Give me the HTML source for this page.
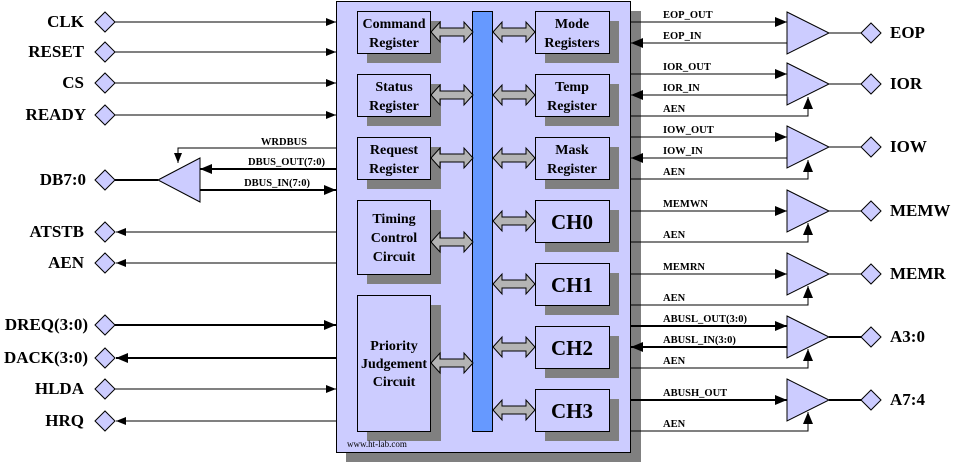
<!DOCTYPE html>
<html><head><style>
html,body{margin:0;padding:0;background:#fff;}
svg{display:block;}
text{font-family:"Liberation Serif",serif;font-weight:bold;fill:#000;}
.pin{font-size:17px;}
.sig{font-size:10.5px;}
.bx{font-size:14px;}
.ch{font-size:21px;}
</style></head><body>
<svg width="956" height="466" viewBox="0 0 956 466" xmlns="http://www.w3.org/2000/svg">
<defs>
<marker id="ar" markerWidth="10" markerHeight="8" refX="10" refY="4" orient="auto" markerUnits="userSpaceOnUse"><path d="M0,0 L10,4 L0,8 Z" fill="#000"/></marker>
<marker id="arb" markerWidth="12" markerHeight="10" refX="12" refY="5" orient="auto" markerUnits="userSpaceOnUse"><path d="M0,0 L12,5 L0,10 Z" fill="#000"/></marker>
<g id="dbl"><path d="M0,10 L9,0 L9,6 L33,6 L33,0 L42,10 L33,20 L33,14 L9,14 L9,20 Z" fill="#b4b4b4" stroke="#000" stroke-width="1"/></g>
<g id="dia"><path d="M0,0 L10,-10 L20,0 L10,10 Z" fill="#ccccff" stroke="#000" stroke-width="1"/></g>
</defs>

<rect x="346" y="11" width="295" height="451" fill="#808080"/>
<rect x="336.5" y="1.5" width="294" height="451" fill="#ccccff" stroke="#000" stroke-width="1"/>

<g fill="#808080">
<rect x="367" y="21" width="74" height="42"/><rect x="367" y="84" width="74" height="42"/><rect x="367" y="147" width="74" height="42"/>
<rect x="367" y="210" width="74" height="74"/><rect x="367" y="305" width="74" height="136"/>
<rect x="545" y="21" width="74" height="42"/><rect x="545" y="84" width="74" height="42"/><rect x="545" y="147" width="74" height="42"/>
<rect x="545" y="210" width="74" height="42"/><rect x="545" y="273" width="74" height="42"/><rect x="545" y="336" width="74" height="42"/><rect x="545" y="399" width="74" height="42"/>
</g>
<g fill="#ccccff" stroke="#000" stroke-width="1">
<rect x="357.5" y="11.5" width="73" height="42"/><rect x="357.5" y="74.5" width="73" height="42"/><rect x="357.5" y="137.5" width="73" height="42"/>
<rect x="357.5" y="200.5" width="73" height="74"/><rect x="357.5" y="295.5" width="73" height="136"/>
<rect x="535.5" y="11.5" width="74" height="42"/><rect x="535.5" y="74.5" width="74" height="42"/><rect x="535.5" y="137.5" width="74" height="42"/>
<rect x="535.5" y="200.5" width="74" height="42"/><rect x="535.5" y="263.5" width="74" height="42"/><rect x="535.5" y="326.5" width="74" height="42"/><rect x="535.5" y="389.5" width="74" height="42"/>
</g>
<rect x="472.5" y="11.5" width="20" height="420" fill="#6699ff" stroke="#000" stroke-width="1"/>

<use href="#dbl" x="431" y="22"/><use href="#dbl" x="431" y="85"/><use href="#dbl" x="431" y="148"/>
<use href="#dbl" x="431" y="232"/><use href="#dbl" x="431" y="353"/>
<use href="#dbl" x="493" y="22"/><use href="#dbl" x="493" y="85"/><use href="#dbl" x="493" y="148"/>
<use href="#dbl" x="493" y="211"/><use href="#dbl" x="493" y="274"/><use href="#dbl" x="493" y="337"/><use href="#dbl" x="493" y="400"/>

<g class="bx" text-anchor="middle">
<text x="394" y="28">Command</text><text x="394" y="47">Register</text>
<text x="394" y="91">Status</text><text x="394" y="110">Register</text>
<text x="394" y="154">Request</text><text x="394" y="173">Register</text>
<text x="394" y="223">Timing</text><text x="394" y="242">Control</text><text x="394" y="261">Circuit</text>
<text x="394" y="350">Priority</text><text x="394" y="368">Judgement</text><text x="394" y="386">Circuit</text>
<text x="572" y="28">Mode</text><text x="572" y="47">Registers</text>
<text x="572" y="91">Temp</text><text x="572" y="110">Register</text>
<text x="572" y="154">Mask</text><text x="572" y="173">Register</text>
</g>
<g class="ch" text-anchor="middle">
<text x="572" y="229">CH0</text><text x="572" y="292">CH1</text><text x="572" y="355">CH2</text><text x="572" y="418">CH3</text>
</g>
<text x="347" y="447" style="font-size:9px;font-weight:normal">www.ht-lab.com</text>

<g class="pin" text-anchor="end">
<text x="84" y="27">CLK</text><text x="84" y="57">RESET</text><text x="84" y="88">CS</text><text x="86" y="120">READY</text>
<text x="86" y="185">DB7:0</text><text x="84" y="237">ATSTB</text><text x="84" y="268">AEN</text>
<text x="88" y="330">DREQ(3:0)</text><text x="88" y="363">DACK(3:0)</text><text x="84" y="394">HLDA</text><text x="84" y="426">HRQ</text>
</g>
<g>
<use href="#dia" x="95" y="22"/><use href="#dia" x="95" y="52"/><use href="#dia" x="95" y="83"/><use href="#dia" x="95" y="115"/>
<use href="#dia" x="95" y="180"/><use href="#dia" x="95" y="232"/><use href="#dia" x="95" y="263"/>
<use href="#dia" x="95" y="325"/><use href="#dia" x="95" y="358"/><use href="#dia" x="95" y="389"/><use href="#dia" x="95" y="421"/>
</g>
<g stroke="#000" stroke-width="1" fill="none">
<line x1="115" y1="22" x2="336" y2="22" marker-end="url(#ar)"/>
<line x1="115" y1="52" x2="336" y2="52" marker-end="url(#ar)"/>
<line x1="115" y1="83" x2="336" y2="83" marker-end="url(#ar)"/>
<line x1="115" y1="115" x2="336" y2="115" marker-end="url(#ar)"/>
<line x1="336" y1="232" x2="116" y2="232" marker-end="url(#ar)"/>
<line x1="336" y1="263" x2="116" y2="263" marker-end="url(#ar)"/>
<line x1="115" y1="389" x2="336" y2="389" marker-end="url(#ar)"/>
<line x1="336" y1="421" x2="116" y2="421" marker-end="url(#ar)"/>
<path d="M336,148 H178 V163" marker-end="url(#ar)"/>
</g>
<g stroke="#000" stroke-width="2" fill="none">
<line x1="115" y1="325" x2="336" y2="325" marker-end="url(#arb)"/>
<line x1="336" y1="358" x2="116" y2="358" marker-end="url(#arb)"/>
<line x1="115" y1="180" x2="158" y2="180"/>
<line x1="336" y1="169" x2="200" y2="169" marker-end="url(#arb)"/>
<line x1="200" y1="190" x2="336" y2="190" marker-end="url(#arb)"/>
</g>
<path d="M158,180 L200,158 L200,202 Z" fill="#ccccff" stroke="#000" stroke-width="1"/>
<g class="sig" text-anchor="end">
<text x="307" y="145">WRDBUS</text><text x="325" y="165">DBUS_OUT(7:0)</text><text x="310" y="186">DBUS_IN(7:0)</text>
</g>

<g fill="#ccccff" stroke="#000" stroke-width="1">
<path d="M787,12 L829,33 L787,54 Z"/><path d="M787,63 L829,84 L787,105 Z"/><path d="M787,126 L829,147 L787,168 Z"/>
<path d="M787,190 L829,211 L787,232 Z"/><path d="M787,253 L829,274 L787,295 Z"/><path d="M787,316 L829,337 L787,358 Z"/><path d="M787,379 L829,400 L787,421 Z"/>
</g>
<g stroke="#000" stroke-width="1">
<line x1="829" y1="33" x2="862" y2="33"/><line x1="829" y1="84" x2="862" y2="84"/><line x1="829" y1="147" x2="862" y2="147"/>
<line x1="829" y1="211" x2="862" y2="211"/><line x1="829" y1="274" x2="862" y2="274"/>
</g>
<g stroke="#000" stroke-width="2"><line x1="829" y1="337" x2="862" y2="337"/><line x1="829" y1="400" x2="862" y2="400"/></g>
<use href="#dia" x="861" y="33"/><use href="#dia" x="861" y="84"/><use href="#dia" x="861" y="147"/>
<use href="#dia" x="861" y="211"/><use href="#dia" x="861" y="274"/><use href="#dia" x="861" y="337"/><use href="#dia" x="861" y="400"/>
<g class="pin">
<text x="890" y="38">EOP</text><text x="890" y="89">IOR</text><text x="890" y="152">IOW</text>
<text x="890" y="216">MEMW</text><text x="890" y="279">MEMR</text><text x="890" y="342">A3:0</text><text x="890" y="405">A7:4</text>
</g>
<g stroke="#000" stroke-width="1" fill="none">
<line x1="630" y1="22" x2="787" y2="22" marker-end="url(#arb)"/>
<line x1="787" y1="43" x2="631" y2="43" marker-end="url(#arb)"/>
<line x1="630" y1="74" x2="787" y2="74" marker-end="url(#arb)"/>
<line x1="787" y1="95" x2="631" y2="95" marker-end="url(#arb)"/>
<path d="M630,116 H808 V97" marker-end="url(#arb)"/>
<line x1="630" y1="137" x2="787" y2="137" marker-end="url(#arb)"/>
<line x1="787" y1="158" x2="631" y2="158" marker-end="url(#arb)"/>
<path d="M630,179 H808 V160" marker-end="url(#arb)"/>
<line x1="630" y1="211" x2="787" y2="211" marker-end="url(#arb)"/>
<path d="M630,242 H808 V223" marker-end="url(#arb)"/>
<line x1="630" y1="274" x2="787" y2="274" marker-end="url(#arb)"/>
<path d="M630,305 H808 V286" marker-end="url(#arb)"/>
<path d="M630,368 H808 V349" marker-end="url(#arb)"/>
<path d="M630,431 H808 V412" marker-end="url(#arb)"/>
</g>
<g stroke="#000" stroke-width="2" fill="none">
<line x1="630" y1="326" x2="787" y2="326" marker-end="url(#arb)"/>
<line x1="787" y1="347" x2="631" y2="347" marker-end="url(#arb)"/>
<line x1="630" y1="400" x2="787" y2="400" marker-end="url(#arb)"/>
</g>
<g class="sig">
<text x="663" y="18">EOP_OUT</text><text x="663" y="39">EOP_IN</text>
<text x="663" y="70">IOR_OUT</text><text x="663" y="91">IOR_IN</text><text x="663" y="112">AEN</text>
<text x="663" y="133">IOW_OUT</text><text x="663" y="154">IOW_IN</text><text x="663" y="175">AEN</text>
<text x="663" y="207">MEMWN</text><text x="663" y="238">AEN</text>
<text x="663" y="270">MEMRN</text><text x="663" y="301">AEN</text>
<text x="663" y="322">ABUSL_OUT(3:0)</text><text x="663" y="343">ABUSL_IN(3:0)</text><text x="663" y="364">AEN</text>
<text x="663" y="396">ABUSH_OUT</text><text x="663" y="427">AEN</text>
</g>
</svg>
</body></html>
